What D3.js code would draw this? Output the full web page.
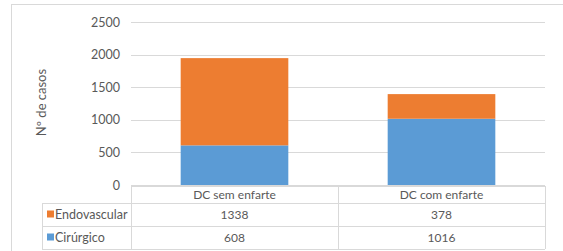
<!DOCTYPE html>
<html><head><meta charset="utf-8">
<script src="https://cdn.jsdelivr.net/npm/d3@7"></script>
<style>body{margin:0;background:#fff}text{font-family:Lato,"Open Sans",sans-serif;fill:#595959}</style>
</head><body><svg id="c" width="563" height="251"></svg>
<script>
const categories = ["DC sem enfarte", "DC com enfarte"];
const seriesNames = ["Cirúrgico", "Endovascular"];
const cirurgico = [608, 1016];
const endovascular = [1338, 378];
const yTicks = [0, 500, 1000, 1500, 2000, 2500];
const colors = {"Cirúrgico": "#5B9BD5", "Endovascular": "#ED7D31"};

(function () {
const svg = d3.select("#c");
const pLeft = 131, pRight = 545, pTop = 22, pBottom = 185;
svg.append("rect").attr("x", 11.5).attr("y", 4.5).attr("width", 560).attr("height", 260)
  .attr("fill", "none").attr("stroke", "#d9d9d9");

const x = d3.scaleBand().domain(categories).range([pLeft, pRight]).paddingInner(0).paddingOuter(0);
const y = d3.scaleLinear().domain([0, 2500]).range([pBottom, pTop]);

svg.append("g").selectAll("line").data(yTicks).join("line")
  .attr("x1", pLeft).attr("x2", pRight).attr("y1", d => Math.round(y(d)) + 0.5).attr("y2", d => Math.round(y(d)) + 0.5)
  .attr("stroke", "#d9d9d9");

const yAxis = d3.axisLeft(y).tickValues(yTicks).tickSize(0).tickPadding(11).tickFormat(d3.format("d"));
const ga = svg.append("g").attr("transform", `translate(${pLeft},0)`).call(yAxis);
ga.select(".domain").remove();
ga.selectAll("text").attr("font-size", 12.5).style("font-family", "Lato").attr("fill", "#595959");

svg.append("text").attr("transform", `translate(46,${(pTop + pBottom) / 2 - 1}) rotate(-90)`)
  .attr("text-anchor", "middle").attr("font-size", 13).text("Nº de casos");

const data = categories.map((c, i) => ({cat: c, "Cirúrgico": cirurgico[i], "Endovascular": endovascular[i]}));
const stack = d3.stack().keys(seriesNames)(data);
const bw = x.bandwidth() * 0.52;
svg.append("g").selectAll("g").data(stack).join("g").attr("fill", d => colors[d.key])
  .selectAll("rect").data(d => d).join("rect")
  .attr("x", d => x(d.data.cat) + (x.bandwidth() - bw) / 2)
  .attr("width", bw)
  .attr("y", d => y(d[1]))
  .attr("height", d => y(d[0]) - y(d[1]));

const tableLeft = 42, rowY = [186, 203, 226, 249];
const g = svg.append("g");
const lc = "#d9d9d9";
g.append("line").attr("x1", pLeft).attr("x2", pRight).attr("y1", rowY[0] + 0.5).attr("y2", rowY[0] + 0.5).attr("stroke", lc);
[1, 2, 3].forEach(i => g.append("line").attr("x1", tableLeft).attr("x2", pRight).attr("y1", rowY[i] + 0.5).attr("y2", rowY[i] + 0.5).attr("stroke", lc));
g.append("line").attr("x1", tableLeft + 0.5).attr("x2", tableLeft + 0.5).attr("y1", rowY[1]).attr("y2", rowY[3]).attr("stroke", lc);
[pLeft, pLeft + x.bandwidth(), pRight].forEach(xx => g.append("line").attr("x1", xx + 0.5).attr("x2", xx + 0.5).attr("y1", rowY[0]).attr("y2", rowY[3]).attr("stroke", lc));

categories.forEach(c => g.append("text").attr("x", x(c) + x.bandwidth() / 2).attr("y", (rowY[0] + rowY[1]) / 2 + 4)
  .attr("text-anchor", "middle").attr("font-size", 12).text(c));
const rows = [["Endovascular", endovascular], ["Cirúrgico", cirurgico]];
rows.forEach(([name, vals], r) => {
  const cy = (rowY[r + 1] + rowY[r + 2]) / 2;
  g.append("rect").attr("x", 47).attr("y", cy - 4).attr("width", 7).attr("height", 7).attr("fill", colors[name]);
  g.append("text").attr("x", 55).attr("y", cy + 4.5).attr("font-size", 12.5).text(name);
  vals.forEach((v, i) => g.append("text").attr("x", x(categories[i]) + x.bandwidth() / 2).attr("y", cy + 4.5)
    .attr("text-anchor", "middle").attr("font-size", 12).text(v));
});
})();
</script></body></html>
